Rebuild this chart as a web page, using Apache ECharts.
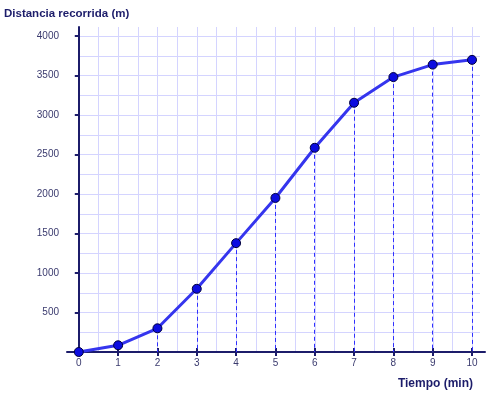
<!DOCTYPE html>
<html><head><meta charset="utf-8">
<script src="https://cdn.jsdelivr.net/npm/echarts@6/dist/echarts.min.js"></script>
<style>html,body{margin:0;padding:0;background:#fff}#c{width:500px;height:394px}</style>
</head><body><div id="c"></div>
<script>
const timeMin = [0, 1, 2, 3, 4, 5, 6, 7, 8, 9, 10];
const distance = [0, 85, 300, 800, 1378, 1950, 2585, 3155, 3480, 3638, 3698];
const xTickValues = [0, 1, 2, 3, 4, 5, 6, 7, 8, 9, 10];
const yTickValues = [500, 1000, 1500, 2000, 2500, 3000, 3500, 4000];
const yTitle = 'Distancia recorrida (m)';
const xTitle = 'Tiempo (min)';

const navy = '#1c1c6a';
const labelColor = '#3a3a6e';
const gridColor = '#d4d4ff';
const font = 'Liberation Sans, Arial, sans-serif';

const points = timeMin.map((t, i) => [t, distance[i]]);
const dropLines = timeMin.filter((t, i) => t > 0).map(t => {
  const v = distance[timeMin.indexOf(t)];
  return [{ coord: [t, v] }, { coord: [t, 0] }];
});

const chart = echarts.init(document.getElementById('c'), null, { renderer: 'canvas' });
chart.setOption({
  animation: false,
  title: [
    { text: yTitle, left: -1, top: 3, textStyle: { fontFamily: font, fontSize: 11.5, fontWeight: 'bold', color: navy } },
    { text: xTitle, right: 22, top: 373, textStyle: { fontFamily: font, fontSize: 12, fontWeight: 'bold', color: navy } }
  ],
  grid: [
    { left: 67, right: 15, top: 27, bottom: 42, containLabel: false },
    { left: 79, right: 20, top: 27, bottom: 42, containLabel: false }
  ],
  xAxis: [
    { type: 'value', gridIndex: 0, min: -0.3, max: 10.33,
      axisLine: { onZero: true, lineStyle: { color: navy, width: 2 } },
      axisTick: { show: true, length: 4, customValues: xTickValues, lineStyle: { color: navy, width: 2 } },
      axisLabel: { customValues: xTickValues, margin: 6, color: labelColor, fontFamily: font, fontSize: 10,
        formatter: v => String(v) },
      splitLine: { show: false } },
    { type: 'value', gridIndex: 0, min: -0.3, max: 10.33, position: 'bottom',
      axisLine: { show: false, onZero: true },
      axisTick: { show: true, inside: true, length: 4, customValues: xTickValues, lineStyle: { color: navy, width: 2 } },
      axisLabel: { show: false }, splitLine: { show: false } },
    { type: 'value', gridIndex: 1, min: 0, max: 10.2, interval: 0.5,
      axisLine: { show: false }, axisTick: { show: false }, axisLabel: { show: false },
      splitLine: { show: true, showMaxLine: false, lineStyle: { color: gridColor, width: 1 } } }
  ],
  yAxis: [
    { type: 'value', gridIndex: 0, min: 0, max: 4114,
      axisLine: { show: true, onZero: true, lineStyle: { color: navy, width: 2 } },
      axisTick: { show: true, length: 4, customValues: yTickValues, lineStyle: { color: navy, width: 2 } },
      axisLabel: { customValues: yTickValues, margin: 8, color: labelColor, fontFamily: font, fontSize: 10,
        formatter: v => String(v) },
      splitLine: { show: false } },
    { type: 'value', gridIndex: 0, min: 0, max: 4114,
      axisLine: { show: false, onZero: true },
      axisTick: { show: true, inside: true, length: 4, customValues: yTickValues, lineStyle: { color: navy, width: 2 } },
      axisLabel: { show: false }, splitLine: { show: false } },
    { type: 'value', gridIndex: 1, min: 0, max: 4114, interval: 250,
      axisLine: { show: false }, axisTick: { show: false }, axisLabel: { show: false },
      splitLine: { show: true, showMaxLine: false, showMinLine: false, lineStyle: { color: gridColor, width: 1 } } }
  ],
  series: [{
    type: 'line', xAxisIndex: 0, yAxisIndex: 0, data: points,
    symbol: 'circle', symbolSize: 9, z: 5,
    lineStyle: { color: '#3535ee', width: 3 },
    itemStyle: { color: '#0c0ce0', borderColor: '#00003a', borderWidth: 1 },
    markLine: {
      silent: true, symbol: 'none', label: { show: false },
      lineStyle: { color: '#3030ff', width: 1, type: [4, 3] },
      data: dropLines
    }
  }]
});
</script></body></html>
